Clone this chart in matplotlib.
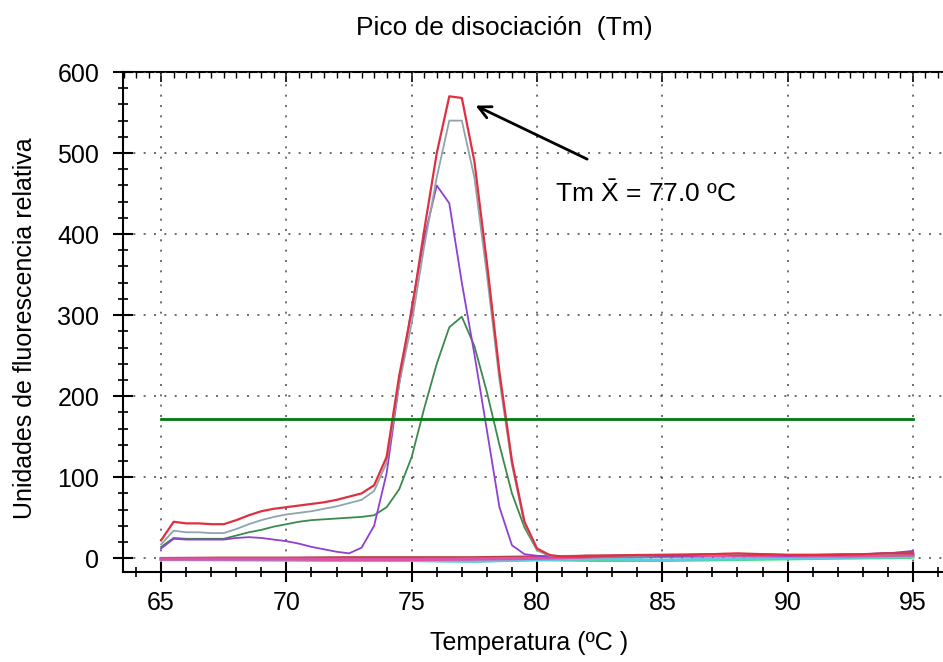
import matplotlib
matplotlib.use("Agg")
import matplotlib.pyplot as plt
from matplotlib.ticker import MultipleLocator

plt.rcParams['font.family'] = ['Liberation Sans', 'DejaVu Sans']
plt.rcParams['mathtext.fontset'] = 'custom'
plt.rcParams['mathtext.rm'] = 'Liberation Sans'

# temperaturas (ºC)
temp = [65, 65.5, 66, 66.5, 67, 67.5, 68, 68.5, 69, 69.5, 70, 70.5, 71, 71.5,
        72, 72.5, 73, 73.5, 74, 74.5, 75, 75.5, 76, 76.5, 77, 77.5, 78, 78.5,
        79, 79.5, 80, 80.5, 81, 82, 83, 84, 85, 86, 87, 88, 89, 90, 91, 92,
        93, 94, 95]

# curvas con pico
rojo = [22, 45, 43, 43, 42, 42, 47, 53, 58, 61, 63, 65, 67, 69,
        72, 76, 80, 90, 125, 225, 305, 405, 500, 570, 568, 490, 365, 230,
        120, 45, 12, 4, 2, 3, 3, 4, 4, 4, 5, 6, 5, 4, 4, 4,
        5, 6, 6]
gris = [17, 34, 32, 32, 31, 31, 36, 42, 47, 51, 54, 56, 58, 61,
        64, 68, 72, 83, 118, 215, 290, 385, 470, 540, 540, 470, 350, 220,
        115, 42, 10, 3, 2, 3, 3, 3, 4, 4, 4, 5, 5, 4, 4, 4,
        5, 5, 6]
verde = [14, 25, 24, 24, 24, 24, 28, 32, 35, 39, 42, 45, 47, 48,
         49, 50, 51, 53, 63, 85, 125, 185, 240, 285, 298, 262, 205, 140,
         80, 38, 10, 3, 2, 2, 3, 3, 3, 4, 4, 5, 4, 4, 4, 5,
         5, 6, 7]
morado = [12, 24, 23, 23, 23, 23, 25, 26, 25, 23, 21, 18, 14, 11,
          8, 6, 13, 40, 105, 215, 310, 395, 460, 438, 340, 252, 158, 63,
          16, 5, 3, 2, 2, 2, 3, 3, 3, 3, 4, 4, 4, 3, 4, 4,
          5, 6, 9]

# curvas planas (sin producto)
temp_base = [65, 67.5, 70, 72.5, 75, 77.5, 80, 82.5, 85, 87.5, 90, 92.5, 95]
rosa = [-1, -1, -1, -1.5, -1.5, -1, 0, 2, 3, 3, 3, 3, 4]
verde_claro = [-2, -2, -2.5, -3, -3, -3.5, -2, -3, -3, -2, -1, 0, 1]
cian = [-1.5, -2, -2, -2.5, -3, -4, -2, -1, -2, -1, 0, 1, 2]
azul = [0, 0, 0, 0, 0, 0, 1, 2, 2, 3, 3, 4, 7]
granate = [0, 0.5, 0.5, 1, 1, 1, 2, 3, 4, 5, 4, 4, 5]

umbral = 172
tm_media = 77.0

fig = plt.figure(figsize=(9.43, 6.62), dpi=100)
ax = fig.add_axes([123 / 943, 90 / 662, 1 - 123 / 943, 500 / 662])

ax.plot(temp_base, verde_claro, color='#40e080', lw=2.0)
ax.plot(temp_base, cian, color='#60c8e0', lw=2.0)
ax.plot(temp_base, azul, color='#5060d0', lw=1.8)
ax.plot(temp_base, granate, color='#b04040', lw=1.8)
ax.plot(temp_base, rosa, color='#e050a8', lw=2.4)

ax.plot(temp, verde, color='#3a8a4a', lw=1.3)
ax.plot(temp, morado, color='#9040d0', lw=1.3)
ax.plot(temp, gris, color='#90a4ac', lw=1.3)
ax.plot(temp, rojo, color='#e03040', lw=1.6)

ax.plot([65, 95], [umbral, umbral], color='#007a10', lw=2.0)

ax.set_xlim(63.48, 96.2)
ax.set_ylim(-17, 600)

ax.xaxis.set_major_locator(MultipleLocator(5))
ax.xaxis.set_minor_locator(MultipleLocator(1))
ax.yaxis.set_major_locator(MultipleLocator(100))
ax.yaxis.set_minor_locator(MultipleLocator(20))
ax.tick_params(which='major', direction='inout', length=14, width=1.5,
               labelsize=18)
ax.tick_params(which='minor', direction='inout', length=7, width=1.2)
ax.tick_params(axis='y', which='major', pad=10)
ax.tick_params(axis='x', which='major', pad=7)

sec = ax.secondary_xaxis('top')
sec.xaxis.set_major_locator(MultipleLocator(5))
sec.xaxis.set_minor_locator(MultipleLocator(0.5))
sec.tick_params(which='major', direction='in', length=7, width=1.2, labeltop=False)
sec.tick_params(which='minor', direction='in', length=4, width=1.0)
sec.spines['top'].set_linewidth(1.5)

ax.spines['right'].set_visible(False)
ax.spines['top'].set_visible(False)
ax.spines['left'].set_linewidth(1.5)
ax.spines['bottom'].set_linewidth(1.5)

ax.grid(True, which='major', color='#555555', linestyle=(0, (1.2, 5)), lw=1.2)

ax.annotate('', xy=(77.45, 560), xytext=(82.1, 491),
            arrowprops=dict(arrowstyle='->', color='black', lw=2,
                            mutation_scale=22))
ax.text(80.7, 450, r'Tm $\bar{\mathrm{X}}$ = 77.0 ºC', fontsize=19,
        va='center', ha='left')

fig.text(504 / 943, 1 - 28 / 662, 'Pico de disociación  (Tm)', fontsize=19,
         ha='center', va='center')
fig.text(529 / 943, 1 - 643 / 662, 'Temperatura (ºC )', fontsize=18,
         ha='center', va='center')
fig.text(25 / 943, 1 - 328 / 662, 'Unidades de fluorescencia relativa',
         fontsize=18, ha='center', va='center', rotation=90)

fig.savefig('out.png', dpi=100)
